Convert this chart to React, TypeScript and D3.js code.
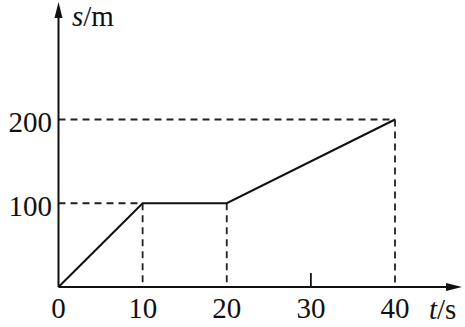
import React from "react";
import * as d3 from "d3";

const times = [0, 10, 20, 40];
const distances = [0, 100, 100, 200];
const xTicks = [0, 10, 20, 30, 40];
const yTicks = [100, 200];
const dashedX = [10, 20, 40];
const dashedY = [
  { t: 10, s: 100 },
  { t: 40, s: 200 },
];

const W = 465;
const H = 327;
const FONT = "'Liberation Serif', 'Times New Roman', serif";
const FS = 29;

export default function App() {
  const ox = 58.5;
  const oy = 287;
  const x = d3.scaleLinear().domain([0, 40]).range([ox, 395]);
  const y = d3.scaleLinear().domain([0, 200]).range([oy, 119.5]);
  const pts = times.map((t, i) => [t, distances[i]] as [number, number]);
  const line = d3
    .line<[number, number]>()
    .x((d) => x(d[0]))
    .y((d) => y(d[1]));

  return (
    <svg
      width={W}
      height={H}
      style={{ position: "absolute", left: 0, top: 0, background: "#fff" }}
    >
      {/* dashed guides */}
      {dashedY.map((d, i) => (
        <line
          key={"h" + i}
          x1={ox}
          x2={x(d.t)}
          y1={y(d.s)}
          y2={y(d.s)}
          stroke="#222"
          strokeWidth={1.8}
          strokeDasharray="7,5"
        />
      ))}
      {dashedX.map((t, i) => {
        const s = distances[times.indexOf(t)];
        return (
          <line
            key={"v" + i}
            x1={x(t)}
            x2={x(t)}
            y1={y(s)}
            y2={oy}
            stroke="#222"
            strokeWidth={1.8}
            strokeDasharray="7,5"
          />
        );
      })}
      {/* axes */}
      <line x1={ox} x2={ox} y1={oy} y2={14} stroke="#111" strokeWidth={2} />
      <path d={`M${ox},2 L${ox - 4},18 L${ox + 4},18 Z`} fill="#111" />
      <line x1={ox} x2={450} y1={oy} y2={oy} stroke="#111" strokeWidth={2} />
      <path d={`M462,${oy} L446,${oy - 4} L446,${oy + 4} Z`} fill="#111" />
      {/* tick at 30 */}
      <line x1={x(30)} x2={x(30)} y1={oy} y2={oy - 14} stroke="#111" strokeWidth={1.8} />
      {/* data line */}
      <path d={line(pts) || ""} fill="none" stroke="#111" strokeWidth={2} strokeLinejoin="miter" />
      {/* tick labels */}
      {xTicks.map((t) => (
        <text
          key={"xt" + t}
          x={x(t)}
          y={318}
          textAnchor="middle"
          fontFamily={FONT}
          fontSize={FS}
          fill="#111"
        >
          {t}
        </text>
      ))}
      {yTicks.map((s) => (
        <text
          key={"yt" + s}
          x={52}
          y={y(s) + 12.5}
          textAnchor="end"
          fontFamily={FONT}
          fontSize={FS}
          fill="#111"
        >
          {s}
        </text>
      ))}
      {/* axis titles */}
      <text x={72} y={26} fontFamily={FONT} fontSize={FS} fill="#111">
        <tspan fontStyle="italic">s</tspan>
        <tspan>/m</tspan>
      </text>
      <text x={429} y={319} fontFamily={FONT} fontSize={FS} fill="#111">
        <tspan fontStyle="italic">t</tspan>
        <tspan>/s</tspan>
      </text>
    </svg>
  );
}
